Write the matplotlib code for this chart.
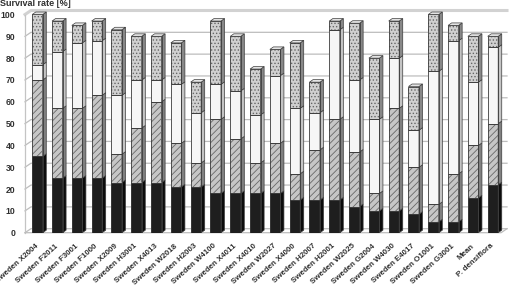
# Stacked 3D-style survival bars, four classes per clone
import matplotlib.pyplot as plt
from matplotlib.patches import Polygon
import numpy as np

plt.rcParams['font.family'] = ['Liberation Sans', 'DejaVu Sans']
plt.rcParams['hatch.linewidth'] = 0.6

categories = ['Sweden X2004', 'Sweden F2011', 'Sweden F3001', 'Sweden F1000',
              'Sweden X2009', 'Sweden H3001', 'Sweden X4013', 'Sweden W2018',
              'Sweden H2003', 'Sweden W4100', 'Sweden X4011', 'Sweden X4010',
              'Sweden W2027', 'Sweden X4000', 'Sweden H2007', 'Sweden H2001',
              'Sweden W2025', 'Sweden G2004', 'Sweden W4030', 'Sweden E4017',
              'Sweden O1001', 'Sweden G3001', 'Mean', 'P. densiflora']

# segment heights, bottom to top
seg_black = [35, 25, 25, 25, 23, 23, 23, 21, 21, 18, 18, 18,
             18, 15, 15, 15, 12, 10, 10, 8.5, 5, 5, 16, 22]
seg_hatch = [35, 32, 32, 38, 13, 25, 37, 20, 11, 34, 25, 14,
             23, 12, 23, 37, 25, 8, 47, 21.5, 8, 22, 24, 28]
seg_white = [7, 26, 30, 25, 27, 22, 10, 27, 23, 16, 22, 22,
             31, 30, 17, 41, 33, 34, 23, 17, 61, 61, 29, 35]
seg_dots = [23, 14, 8, 9, 30, 20, 20, 19, 14, 29, 25, 21,
            12, 30, 14, 4, 26, 28, 17, 20, 26, 7, 21, 5]

y_ticks = [0, 10, 20, 30, 40, 50, 60, 70, 80, 90, 100]

# ---- figure geometry ----
W, H = 510, 287
fig = plt.figure(figsize=(W / 100, H / 100), dpi=100)
y0_px, y100_px = 232.7, 14.5
px_per_unit = (y0_px - y100_px) / 100
top_px = 10
ax = fig.add_axes([25 / W, 1 - y0_px / H, (507 - 25) / W, (y0_px - top_px) / H])
xl, xr = -0.63, 23.71
ax.set_xlim(xl, xr)
ax.set_ylim(0, (y0_px - top_px) / px_per_unit)
for s in ax.spines.values():
    s.set_visible(False)

# 3D offsets
wall_dx, wall_dy = 0.3, 4 / px_per_unit
side_dx, side_dy = 0.18, 2.5 / px_per_unit
bw = 0.53

# back wall grid
for v in y_ticks:
    lw, col = (2.2, '#d2d2d2') if v == 100 else (0.9, '#bdbdbd')
    ax.plot([xl, xl + wall_dx, xr], [v, v + wall_dy, v + wall_dy],
            color=col, lw=lw, zorder=0, clip_on=False)
ax.plot([xl, xl], [0, 100], color='#c4c4c4', lw=0.9, zorder=0, clip_on=False)
ax.plot([xl, xr - wall_dx, xr], [0, 0, wall_dy], color='#bdbdbd', lw=0.9,
        zorder=0, clip_on=False)

x = np.arange(len(categories))
segments = [
    (seg_black, '#1e1e1e', '#0c0c0c', None, None),
    (seg_hatch, '#c6c6c6', '#808080', '/////', '#686868'),
    (seg_white, '#f6f6f6', '#c4c4c4', None, None),
    (seg_dots, '#d0d0d0', '#888888', '.....', '#666666'),
]

bottom = np.zeros(len(categories))
for vals, fc, side_c, hatch, hc in segments:
    vals = np.array(vals, dtype=float)
    ax.bar(x, vals, bottom=bottom, width=bw, color=fc, lw=0, zorder=2)
    if hatch:
        ax.bar(x, vals, bottom=bottom, width=bw, facecolor='none',
               edgecolor=hc, hatch=hatch, lw=0, zorder=3)
    ax.bar(x, vals, bottom=bottom, width=bw, facecolor='none',
           edgecolor='#3c3c3c', lw=0.6, zorder=4)
    for xi, b, h in zip(x, bottom, vals):
        xe = xi + bw / 2
        side = Polygon([(xe, b), (xe + side_dx, b + side_dy),
                        (xe + side_dx, b + h + side_dy), (xe, b + h)],
                       closed=True, facecolor=side_c, edgecolor='#3c3c3c',
                       lw=0.5, zorder=2)
        ax.add_patch(side)
    bottom = bottom + vals

# top faces
for xi, t in zip(x, bottom):
    xs = xi - bw / 2
    top = Polygon([(xs, t), (xs + side_dx, t + side_dy),
                   (xs + bw + side_dx, t + side_dy), (xs + bw, t)],
                  closed=True, facecolor='#e4e4e4', edgecolor='#3c3c3c',
                  lw=0.5, zorder=5)
    ax.add_patch(top)

ax.set_yticks(y_ticks)
ax.set_yticklabels([str(v) for v in y_ticks], fontsize=6.2,
                   fontweight='bold', color='#303030')
ax.tick_params(axis='y', length=0, pad=7)

ax.set_xticks(x)
ax.set_xticklabels(categories, rotation=42, ha='right', va='center',
                   rotation_mode='anchor', fontsize=5.7, fontweight='bold',
                   color='#303030')
ax.tick_params(axis='x', length=0, pad=9)

fig.text(0.0, 1 - 6 / H, 'Survival rate [%]', fontsize=6.5,
         fontweight='bold', color='#303030', va='baseline', ha='left')

fig.savefig('out.png', dpi=100)
